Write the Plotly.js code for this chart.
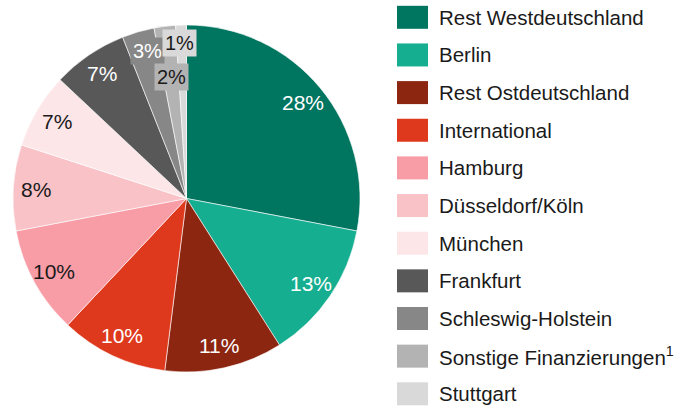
<!DOCTYPE html>
<html>
<head>
<meta charset="utf-8">
<script src="https://cdn.plot.ly/plotly-3.0.1.min.js"></script>
<style>html,body{margin:0;padding:0;background:#fff;}#chart{width:682px;height:408px;}</style>
</head>
<body>
<div id="chart"></div>
<script>
// ---- data ----
const categories = ["Rest Westdeutschland", "Berlin", "Rest Ostdeutschland", "International", "Hamburg",
  "Düsseldorf/Köln", "München", "Frankfurt", "Schleswig-Holstein", "Sonstige Finanzierungen<sup>1</sup>", "Stuttgart"];
const shares = [28, 13, 11, 10, 10, 8, 7, 7, 3, 2, 1];
const sliceColors = ["#00755f", "#15ae90", "#8c2610", "#de391d", "#f89ca6", "#f9c2c7", "#fde6e8",
  "#585858", "#878787", "#b3b3b3", "#d9d9d9"];
const labelColors = ["#ffffff", "#ffffff", "#ffffff", "#ffffff", "#1a1a1a", "#1a1a1a", "#1a1a1a",
  "#ffffff", "#ffffff", "#1a1a1a", "#1a1a1a"];

// ---- layout config ----
const W = 682, H = 408;
const cx = 186.5, cy = 198.5, R = 173.5;
const labelRadius = 0.87;
const boxedFrom = 8; // small slices get boxed labels
const nudge = {8: [3, -3], 9: [4, 28], 10: [-2, -5]};
const FONT = "Liberation Sans, Arial, Helvetica, sans-serif";

const total = shares.reduce((a, b) => a + b, 0);
const annotations = [];
let cum = 0;
shares.forEach((v, i) => {
  const mid = (cum + v / 2) / total * 2 * Math.PI;
  cum += v;
  const n = nudge[i] || [0, 0];
  const px = cx + labelRadius * R * Math.sin(mid) + n[0];
  const py = cy - labelRadius * R * Math.cos(mid) + n[1];
  const a = {
    xref: "paper", yref: "paper", x: px / W, y: 1 - py / H,
    xanchor: "center", yanchor: "middle", showarrow: false,
    text: v + "%", font: {family: FONT, size: 21, color: labelColors[i]}
  };
  if (i >= boxedFrom) { a.bgcolor = sliceColors[i]; a.borderpad = 2; a.font.size = 20; }
  annotations.push(a);
});

// legend drawn as shapes + text
const shapes = [];
const legTop = 17.3, legStep = 37.65;
categories.forEach((c, i) => {
  const yc = legTop + legStep * i;
  shapes.push({type: "rect", xref: "paper", yref: "paper",
    x0: 397 / W, x1: 428 / W, y0: 1 - (yc + 11.5) / H, y1: 1 - (yc - 11.5) / H,
    fillcolor: sliceColors[i], line: {width: 0}});
  annotations.push({xref: "paper", yref: "paper", x: 437 / W, y: 1 - yc / H,
    xanchor: "left", yanchor: "middle", showarrow: false, text: c,
    font: {family: FONT, size: 20.5, color: "#1a1a1a"}});
});

const trace = {
  type: "pie", labels: categories, values: shares, sort: false,
  direction: "clockwise", rotation: 0,
  marker: {colors: sliceColors, line: {color: "#ffffff", width: 0.6}},
  textinfo: "none", hoverinfo: "skip", showlegend: false,
  domain: {x: [(cx - R) / W, (cx + R) / W], y: [1 - (cy + R) / H, 1 - (cy - R) / H]}
};

Plotly.newPlot("chart", [trace], {
  width: W, height: H, margin: {l: 0, r: 0, t: 0, b: 0},
  paper_bgcolor: "#ffffff", plot_bgcolor: "#ffffff",
  showlegend: false, shapes: shapes, annotations: annotations,
  font: {family: FONT}
}, {staticPlot: true});
</script>
</body>
</html>
